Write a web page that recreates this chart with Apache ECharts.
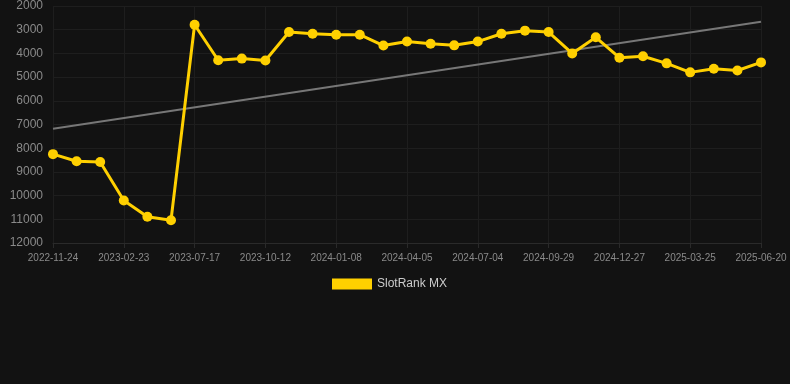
<!DOCTYPE html>
<html>
<head>
<meta charset="utf-8">
<script src="https://cdn.jsdelivr.net/npm/echarts@6/dist/echarts.min.js"></script>
<style>
  html, body { margin: 0; padding: 0; background: #121212; }
  #chart { width: 790px; height: 384px; }
</style>
</head>
<body>
<div id="chart"></div>
<script>
// 日期（类目轴）
var dates = [
  '2022-11-24', '2022-12-24', '2023-01-23', '2023-02-23', '2023-04-10', '2023-05-28',
  '2023-07-17', '2023-08-15', '2023-09-13', '2023-10-12', '2023-11-10', '2023-12-09',
  '2024-01-08', '2024-02-06', '2024-03-06', '2024-04-05', '2024-05-05', '2024-06-04',
  '2024-07-04', '2024-08-02', '2024-08-31', '2024-09-29', '2024-10-28', '2024-11-27',
  '2024-12-27', '2025-01-25', '2025-02-23', '2025-03-25', '2025-04-23', '2025-05-22',
  '2025-06-20'
];
// 排名
var rank = [
  8250, 8550, 8580, 10210, 10890, 11040,
  2790, 4290, 4220, 4300, 3100, 3170,
  3210, 3210, 3670, 3500, 3590, 3660,
  3500, 3170, 3040, 3100, 4000, 3320,
  4180, 4120, 4420, 4800, 4650, 4720,
  4380
];
// 趋势线（只有首尾两点）
var trend = [7180];
for (var i = 1; i < dates.length - 1; i++) trend.push(null);
trend.push(2660);

var myChart = echarts.init(document.getElementById('chart'));

var option = {
  backgroundColor: '#121212',
  animation: false,
  grid: {
    left: 53,
    right: 29,
    top: 6,
    bottom: 141
  },
  legend: {
    data: ['SlotRank MX'],
    top: 273,
    left: 327,
    itemWidth: 40,
    itemHeight: 11,
    itemGap: 10,
    icon: 'rect',
    textStyle: { color: '#cccccc', fontSize: 12, fontFamily: 'Liberation Sans, Arial, sans-serif' }
  },
  xAxis: {
    type: 'category',
    data: dates,
    boundaryGap: false,
    axisLine: { lineStyle: { color: '#2a2a2a' } },
    axisTick: { show: true, interval: 2, lineStyle: { color: '#2a2a2a' } },
    axisLabel: {
      interval: 2,
      margin: 10,
      color: '#8a8a8a',
      fontSize: 10,
      fontFamily: 'Liberation Sans, Arial, sans-serif'
    },
    splitLine: { show: true, interval: 2, lineStyle: { color: '#1e1e1e' } }
  },
  yAxis: {
    type: 'value',
    inverse: true,
    min: 2000,
    max: 12000,
    interval: 1000,
    axisLine: { show: false },
    axisTick: { show: false },
    axisLabel: {
      color: '#8a8a8a',
      fontSize: 12,
      margin: 10,
      fontFamily: 'Liberation Sans, Arial, sans-serif',
      formatter: function (v) { return String(v); }
    },
    splitLine: { lineStyle: { color: '#1e1e1e' } }
  },
  series: [
    {
      name: 'SlotRank MX',
      type: 'line',
      data: rank,
      symbol: 'circle',
      symbolSize: 10,
      itemStyle: { color: '#ffd000' },
      lineStyle: { color: '#ffd000', width: 3 },
      z: 3
    },
    {
      name: 'trend',
      type: 'line',
      data: trend,
      connectNulls: true,
      symbol: 'none',
      lineStyle: { color: '#777777', width: 2 },
      z: 2
    }
  ]
};
myChart.setOption(option);
</script>
</body>
</html>
